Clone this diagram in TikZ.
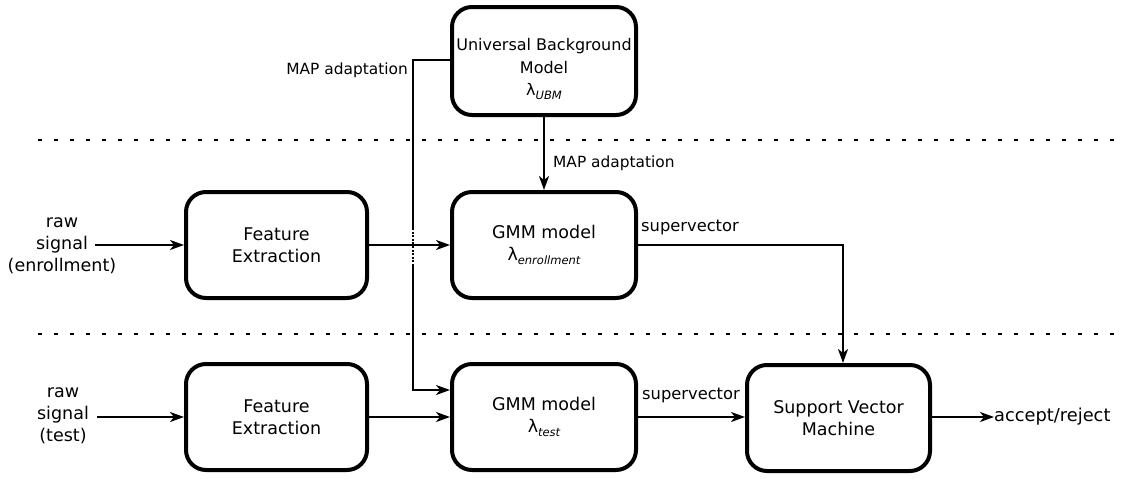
\documentclass[tikz,border=0pt]{standalone}
\usepackage{fontspec}
\setmainfont{DejaVu Sans}
\usetikzlibrary{arrows.meta,positioning}

% lambda with an oblique subscript
\newcommand{\lamsub}[1]{λ\raisebox{-0.45ex}{\fontsize{11.5}{12}\selectfont\itshape #1}}

\tikzset{
  block/.style={draw, line width=4pt, rounded corners=20pt, align=center,
    inner sep=0pt, font=\fontsize{17.5}{22.5}\selectfont},
  conn/.style={line width=2.2pt},
  arr/.style={conn, -{Stealth[length=14pt,width=10pt,inset=4pt]}},
  lbl/.style={font=\fontsize{16}{19}\selectfont, inner sep=0pt},
  txt/.style={font=\fontsize{17.5}{22}\selectfont, align=center, inner sep=0pt},
  sep/.style={line width=2.6pt, dash pattern=on 4pt off 12pt}
}

\begin{document}
\begin{tikzpicture}[x=1pt,y=-1pt]
  \useasboundingbox (0,0) rectangle (1125,479);

  % separators between the three stages
  \draw[sep] (38,140) -- (1122,140);
  \draw[sep] (38,334) -- (1122,334);

  % processing blocks
  \node[block, minimum width=184pt, minimum height=108pt] (ubm) at (544,61) {};
  \node[txt, font=\fontsize{16}{22.5}\selectfont] (ubmtext) at (544,69)
    {Universal Background\\Model\\\lamsub{UBM}};
  \node[block, minimum width=181pt, minimum height=106pt] (fe1) at (276.5,245)
    {Feature\\Extraction};
  \node[block, minimum width=184pt, minimum height=106pt] (gmm1) at (544,245)
    {GMM model\\\lamsub{enrollment}};
  \node[block, minimum width=181pt, minimum height=106pt] (fe2) at (276.5,417)
    {Feature\\Extraction};
  \node[block, minimum width=184pt, minimum height=106pt] (gmm2) at (544,417)
    {GMM model\\\lamsub{test}};
  \node[block, minimum width=183pt, minimum height=106pt] (svm) at (838.5,418)
    {Support Vector\\Machine};

  % inputs and output
  \node[txt] (in1) at (62,246) {raw\\signal\\(enrollment)};
  \node[txt] (in2) at (63,416) {raw\\signal\\(test)};
  \node[txt, anchor=west, font=\fontsize{17.8}{22}\selectfont] (out) at (994,417) {accept/reject};

  \coordinate (s1) at (95,245);
  \coordinate (s2) at (97,417);
  \draw[arr] (s1) -- (fe1.west |- s1);
  \draw[arr] (s2) -- (fe2.west |- s2);

  % feature extraction to GMM
  \draw[arr] (fe1.east |- 0,245) -- (gmm1.west |- 0,245);
  \draw[arr] (fe2.east |- 0,417) -- (gmm2.west |- 0,417);

  % MAP adaptation from the UBM
  \draw[arr] (ubm.south) -- (gmm1.north);
  \node[lbl, anchor=west, font=\fontsize{15.4}{19}\selectfont] (map2) at (553,163) {MAP adaptation};

  \coordinate (t0) at (413,60);
  \coordinate (t1) at (413,228);
  \coordinate (t2) at (413,266);
  \coordinate (t3) at (413,390);
  \draw[conn] (ubm.west |- t0) -- (t0) -- (t1);
  \draw[conn, dash pattern=on 2pt off 1.6pt] (t1) -- (t2);
  \draw[arr] (t2) -- (t3) -- (gmm2.west |- t3);
  \node[lbl, anchor=east, font=\fontsize{15.4}{19}\selectfont] (map1) at (408,70) {MAP adaptation};

  % supervectors into the SVM
  \coordinate (k1) at (843,245);
  \draw[arr] (gmm1.east |- k1) -- (k1) -- (svm.north -| k1);
  \node[lbl, anchor=west, font=\fontsize{16.3}{19}\selectfont] (sv1) at (641,227) {supervector};
  \draw[arr] (gmm2.east |- 0,417) -- (svm.west |- 0,417);
  \node[lbl, anchor=west, font=\fontsize{16.3}{19}\selectfont] (sv2) at (642,395) {supervector};

  % decision
  \draw[arr] (svm.east |- out.west) -- (out.west);
\end{tikzpicture}
\end{document}
